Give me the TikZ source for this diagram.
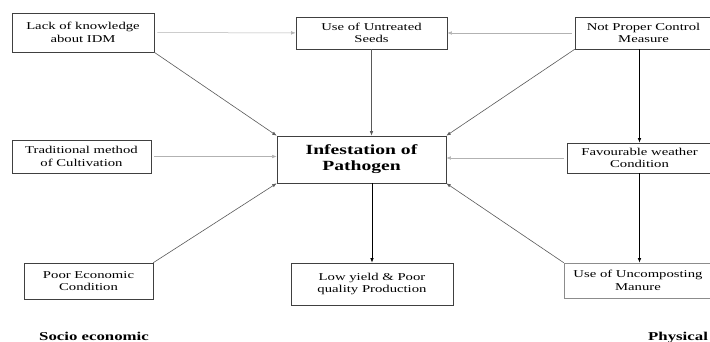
\documentclass[tikz,border=0pt]{standalone}
\usepackage{fontspec}
\setmainfont[FakeStretch=1.4]{Liberation Serif}
\usetikzlibrary{arrows.meta,positioning}

\begin{document}
\begin{tikzpicture}[x=1pt,y=-1pt,
  box/.style={draw=black!75, line width=0.6pt, align=center, inner sep=0pt, font=\fontsize{10.5}{12.5}\selectfont},
  tip/.style={-{Latex[length=4.5pt,width=3.5pt]}},
  pale/.style={tip, draw=black!30, line width=0.5pt, shorten <=3pt},
  grey/.style={tip, draw=black!65, line width=0.6pt},
  dark/.style={tip, draw=black, line width=0.7pt},
  side/.style={font=\fontsize{12}{14}\selectfont\bfseries, anchor=base west, inner sep=0pt}]
\useasboundingbox (0,0) rectangle (710,342);
% boxes
\node[box, minimum width=142, minimum height=39] (lack) at (83,32.5) {Lack of knowledge\\about IDM};
\node[box, minimum width=151, minimum height=32] (seeds) at (371.5,33) {Use of Untreated\\Seeds};
\node[box, minimum width=137, minimum height=32] (np) at (643.5,33) {Not Proper Control\\Measure};
\node[box, minimum width=169, minimum height=47, font=\fontsize{14}{16}\selectfont\bfseries] (inf) at (361.5,159.5) {Infestation of\\Pathogen};
\node[box, minimum width=139, minimum height=33] (trad) at (81.5,156.5) {Traditional method\\of Cultivation};
\node[box, minimum width=145, minimum height=30] (fav) at (639.5,158) {Favourable weather\\Condition};
\node[box, minimum width=129, minimum height=36] (poor) at (88.5,281) {Poor Economic\\Condition};
\node[box, minimum width=162, minimum height=42] (low) at (372,284) {Low yield \& Poor\\quality Production};
\node[box, draw=black!45, minimum width=148, minimum height=35] (man) at (638,280.5) {Use of Uncomposting\\Manure};
% side labels
\node[side] (socio) at (39,340.5) {Socio economic};
\node[side] (phys) at (648,340.5) {Physical};
% arrows
\draw[pale] (lack) -- (seeds);
\draw[pale] (np) -- (seeds);
\draw[grey] (lack.south east) -- (inf.north west);
\draw[grey] (seeds.south) -- (seeds.south |- inf.north);
\draw[grey] (np.south west) -- (inf.north east);
\draw[dark] (fav.north |- np.south) -- (fav.north);
\draw[pale] (trad.east) -- (trad.east -| inf.west);
\draw[pale] (fav.west) -- (fav.west -| inf.east);
\draw[grey] (poor.north east) -- (inf.south west);
\draw[grey] (man.north west) -- (inf.south east);
\draw[dark] (low.north |- inf.south) -- (low.north);
\draw[dark] (fav.south) -- (fav.south |- man.north);
\end{tikzpicture}
\end{document}
